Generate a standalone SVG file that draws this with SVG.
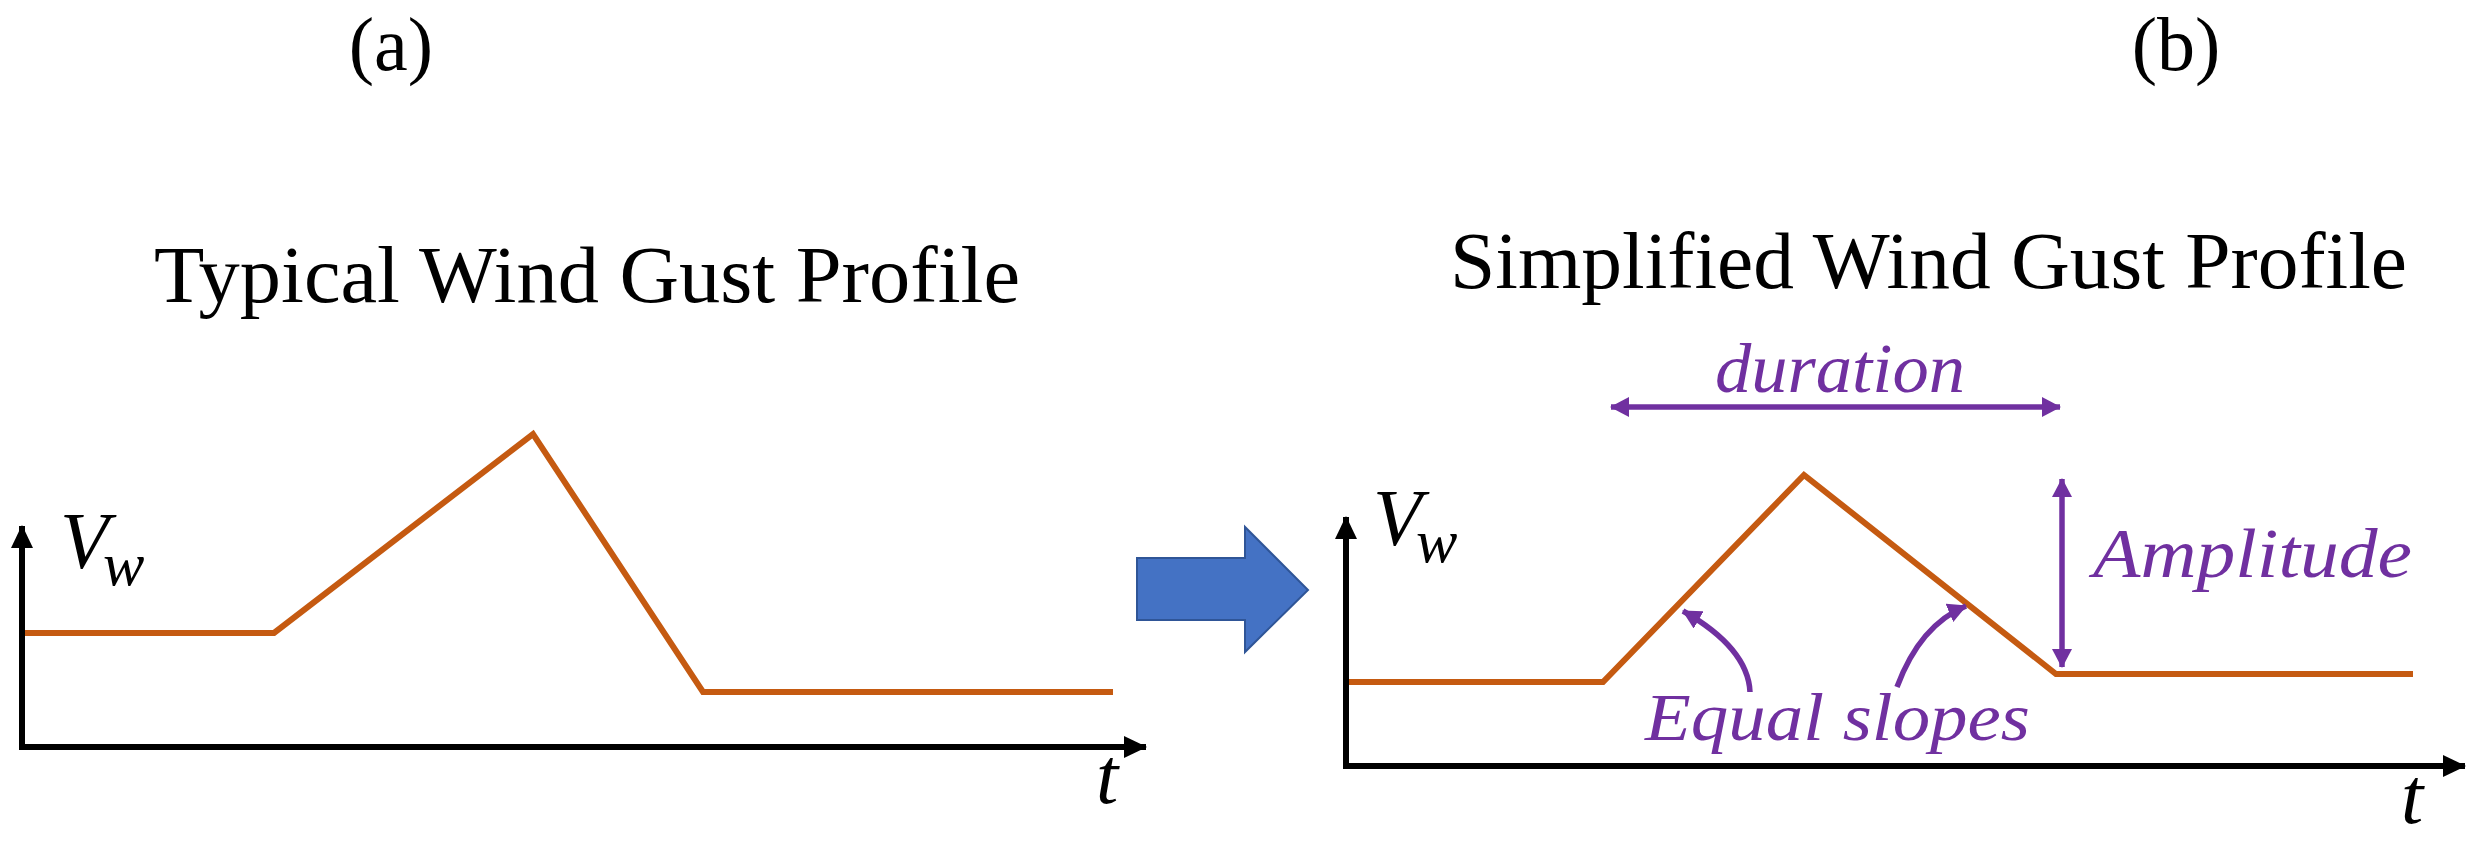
<svg xmlns="http://www.w3.org/2000/svg" width="2477" height="852" viewBox="0 0 2477 852">
<style>
.title{font-family:"Liberation Serif","Times New Roman",serif;font-size:80px;fill:#000}
.lbl{font-family:"Liberation Serif","Times New Roman",serif;font-size:76px;fill:#000}
.math{font-family:"Liberation Serif","Times New Roman",serif;font-style:italic;fill:#000}
.ann{font-family:"Liberation Serif","Times New Roman",serif;font-style:italic;fill:#7030A0}
.axis{stroke:#000;stroke-width:6;fill:none}
.gust{stroke:#C55A11;stroke-width:6;fill:none;stroke-linejoin:miter}
.pur{stroke:#7030A0;stroke-width:5.5;fill:none}
</style>
<defs>
<marker id="ah" markerUnits="userSpaceOnUse" markerWidth="19" markerHeight="20" refX="18" refY="10" orient="auto-start-reverse">
<path d="M0,0 L19,10 L0,20 z" fill="#7030A0"/>
</marker>
<marker id="axh" markerUnits="userSpaceOnUse" markerWidth="23" markerHeight="22" refX="22" refY="11" orient="auto">
<path d="M0,0 L23,11 L0,22 z" fill="#000"/>
</marker>
</defs>
<rect width="2477" height="852" fill="#fff"/>

<g id="panel-a">
<text class="lbl" x="391" y="70" text-anchor="middle">(a)</text>
<text class="title" x="154" y="302" textLength="866" lengthAdjust="spacingAndGlyphs">Typical Wind Gust Profile</text>
<g id="axes-a">
<path class="axis" d="M22,748 L22,526" marker-end="url(#axh)"/>
<path class="axis" d="M19,747 L1146,747" marker-end="url(#axh)"/>
<text class="math" x="60" y="568" font-size="80">V<tspan dx="-6" dy="17" font-size="62">w</tspan></text>
<text class="math" x="1096" y="803" font-size="80">t</text>
</g>
<polyline id="curve-a" class="gust" points="25,633 274,633 533,434 703,692 1113,692"/>
</g>

<g id="transform-arrow">
<polygon points="1137,558 1245,558 1245,527 1308,590 1245,652 1245,620 1137,620" fill="#4472C4" stroke="#2F5597" stroke-width="2"/>
</g>

<g id="panel-b">
<text class="lbl" x="2176" y="70" text-anchor="middle">(b)</text>
<text class="title" x="1450" y="288" textLength="957" lengthAdjust="spacingAndGlyphs">Simplified Wind Gust Profile</text>
<g id="axes-b">
<path class="axis" d="M1346,767 L1346,517" marker-end="url(#axh)"/>
<path class="axis" d="M1343,766 L2465,766" marker-end="url(#axh)"/>
<text class="math" x="1373" y="545" font-size="80">V<tspan dx="-6" dy="17" font-size="62">w</tspan></text>
<text class="math" x="2401" y="823" font-size="80">t</text>
</g>
<polyline id="curve-b" class="gust" points="1349,682 1603,682 1804,475 2056,674 2413,674"/>
</g>

<g id="annotations">
<g id="duration">
<text class="ann" x="1715" y="392" font-size="70" textLength="250" lengthAdjust="spacingAndGlyphs">duration</text>
</g>
<g id="amplitude">
<text class="ann" x="2093" y="577" font-size="70" textLength="319" lengthAdjust="spacingAndGlyphs">Amplitude</text>
</g>
<g id="equal-slopes">
<text class="ann" x="1645" y="740" font-size="68" textLength="385" lengthAdjust="spacingAndGlyphs">Equal slopes</text>
</g>
</g>

<g id="connectors">
<path class="pur" d="M1611,407 L2060,407" marker-start="url(#ah)" marker-end="url(#ah)"/>
<path class="pur" d="M2062,479 L2062,667" marker-start="url(#ah)" marker-end="url(#ah)"/>
<path class="pur" d="M1750,692 Q1748,648 1683,611" marker-end="url(#ah)"/>
<path class="pur" d="M1897,687 Q1920,625 1966,606" marker-end="url(#ah)"/>
</g>
</svg>
